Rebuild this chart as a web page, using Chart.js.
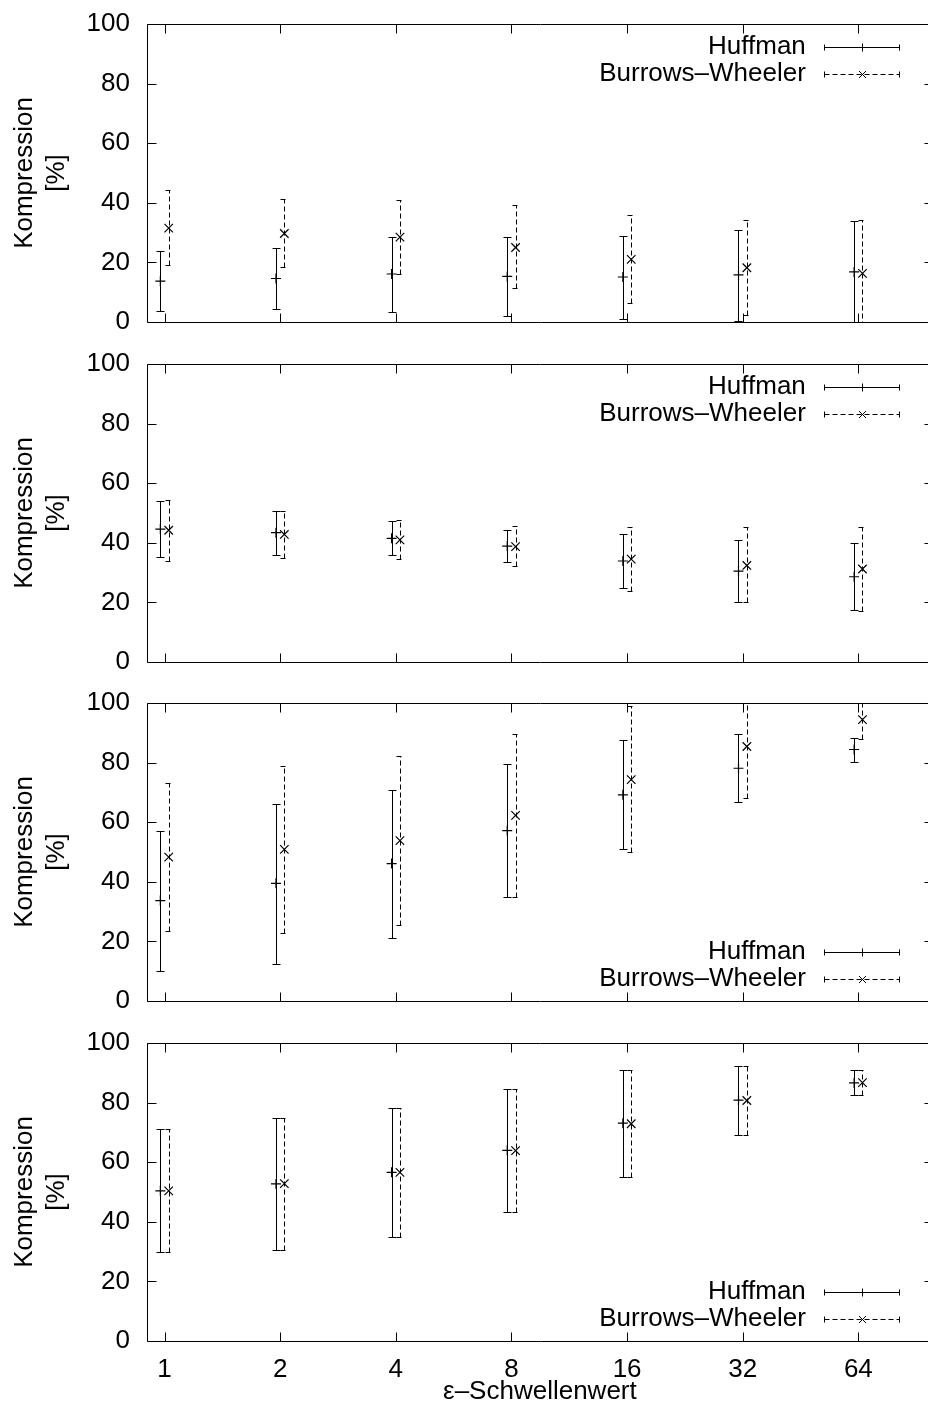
<!DOCTYPE html>
<html>
<head>
<meta charset="utf-8">
<title>Kompression nach ε-Schwellenwert</title>
<script src="https://cdn.jsdelivr.net/npm/chart.js@4.4.1/dist/chart.umd.min.js"></script>
<style>
  html, body { margin: 0; padding: 0; background: #fff; width: 928px; height: 1421px; overflow: hidden; }
  #wrap { position: relative; width: 928px; height: 1421px; overflow: hidden; }
  canvas { position: absolute; left: 0; }
</style>
</head>
<body>
<div id="wrap">
  <canvas id="p1" width="940" height="340" style="top:0px"></canvas>
  <canvas id="p2" width="940" height="339" style="top:340px"></canvas>
  <canvas id="p3" width="940" height="340" style="top:679px"></canvas>
  <canvas id="p4" width="940" height="402" style="top:1019px"></canvas>
</div>
<script>
// ---- data ----------------------------------------------------------------
const thresholds = [1, 2, 4, 8, 16, 32, 64];
const seriesNames = ['Huffman', 'Burrows\u2013Wheeler'];
const yTicks = [0, 20, 40, 60, 80, 100];
const yTitle = ['Kompression', '[%]'];
const xTitle = '\u03b5\u2013Schwellenwert';

// panel 1
const huff1Mean = [13.7, 14.6, 16.1, 15.3, 15.1, 15.8, 16.8];
const huff1Low  = [3.7, 4.5, 3.5, 2.1, 1.0, 0.4, -0.6];
const huff1High = [23.9, 24.7, 28.5, 28.5, 28.8, 30.9, 34.0];
const bw1Mean   = [31.5, 29.7, 28.5, 25.0, 21.0, 18.2, 16.3];
const bw1Low    = [19.1, 18.3, 16.1, 11.3, 6.4, 2.3, -1.5];
const bw1High   = [44.2, 41.2, 40.9, 39.2, 35.8, 34.2, 34.1];

// panel 2
const huff2Mean = [44.6, 43.4, 41.5, 38.9, 33.9, 30.5, 28.6];
const huff2Low  = [35.2, 36.0, 35.8, 33.6, 24.9, 20.2, 17.5];
const huff2High = [54.1, 50.8, 47.3, 44.4, 42.8, 40.8, 39.9];
const bw2Mean   = [44.2, 42.8, 41.0, 38.7, 34.5, 32.4, 31.2];
const bw2Low    = [34.0, 35.0, 34.7, 32.2, 23.7, 20.1, 17.1];
const bw2High   = [54.5, 50.6, 47.5, 45.6, 45.4, 45.4, 45.4];

// panel 3
const huff3Mean = [33.7, 39.5, 46.1, 57.2, 69.2, 78.1, 84.4];
const huff3Low  = [9.9, 12.5, 21.1, 35.0, 50.9, 66.7, 80.1];
const huff3High = [57.0, 66.2, 70.9, 79.5, 87.6, 89.6, 88.4];
const bw3Mean   = [48.3, 50.9, 53.8, 62.3, 74.3, 85.4, 94.4];
const bw3Low    = [23.4, 22.8, 25.4, 34.8, 50.0, 68.2, 88.0];
const bw3High   = [73.3, 79.0, 82.3, 89.6, 99.1, 103.0, 102.0];

// panel 4
const huff4Mean = [50.4, 52.7, 56.6, 64.0, 73.1, 80.8, 86.6];
const huff4Low  = [29.9, 30.7, 34.9, 43.3, 55.2, 69.1, 82.4];
const huff4High = [71.2, 74.7, 78.3, 84.7, 90.9, 92.4, 90.9];
const bw4Mean   = [50.4, 52.8, 56.6, 63.9, 72.9, 80.7, 86.7];
const bw4Low    = [29.9, 30.7, 34.9, 43.3, 55.2, 69.1, 82.4];
const bw4High   = [71.2, 74.7, 78.3, 84.7, 90.9, 92.4, 90.9];

// ---- drawing -------------------------------------------------------------
const FONT = "'Liberation Sans', Arial, Helvetica, sans-serif";
const INK = '#000';
const DASH = [5, 3];
const TICK = 9;

const panels = [
  { id: 'p1', legend: 'top',    xLabels: false,
    huff: [huff1Mean, huff1Low, huff1High], bw: [bw1Mean, bw1Low, bw1High] },
  { id: 'p2', legend: 'top',    xLabels: false,
    huff: [huff2Mean, huff2Low, huff2High], bw: [bw2Mean, bw2Low, bw2High] },
  { id: 'p3', legend: 'bottom', xLabels: false,
    huff: [huff3Mean, huff3Low, huff3High], bw: [bw3Mean, bw3Low, bw3High] },
  { id: 'p4', legend: 'bottom', xLabels: true,
    huff: [huff4Mean, huff4Low, huff4High], bw: [bw4Mean, bw4Low, bw4High] }
];

function markPlus(ctx, x, y, r) {
  ctx.moveTo(x - r, y); ctx.lineTo(x + r, y);
  ctx.moveTo(x, y - r); ctx.lineTo(x, y + r);
}
function markCross(ctx, x, y, r) {
  ctx.moveTo(x - r, y - r); ctx.lineTo(x + r, y + r);
  ctx.moveTo(x - r, y + r); ctx.lineTo(x + r, y - r);
}

// vertical error bars with caps, clipped to the plot box
const errorBars = {
  id: 'errorBars',
  beforeDatasetsDraw(chart) {
    const { ctx, chartArea: a, scales: { x, y } } = chart;
    ctx.save();
    ctx.beginPath();
    ctx.rect(a.left, a.top, a.right - a.left, a.bottom - a.top);
    ctx.clip();
    ctx.strokeStyle = INK;
    ctx.lineWidth = 1;
    chart.data.datasets.forEach(ds => {
      ds.data.forEach((p, i) => {
        const px = Math.round(x.getPixelForValue(p.x)) + 0.5;
        const yl = Math.round(y.getPixelForValue(ds.errLow[i])) + 0.5;
        const yh = Math.round(y.getPixelForValue(ds.errHigh[i])) + 0.5;
        ctx.setLineDash(ds.errDash);
        ctx.beginPath();
        ctx.moveTo(px, yl); ctx.lineTo(px, yh);
        ctx.stroke();
        ctx.beginPath();
        ctx.moveTo(px - 4, yl); ctx.lineTo(px + 4, yl);
        ctx.moveTo(px - 4, yh); ctx.lineTo(px + 4, yh);
        ctx.stroke();
      });
    });
    ctx.restore();
  }
};

// plot frame with inward ticks on all four sides
const frame = {
  id: 'frame',
  afterDraw(chart) {
    const { ctx, chartArea: a, scales: { x, y } } = chart;
    const L = Math.round(a.left) + 0.5, R = Math.round(a.right) + 0.5;
    const T = Math.round(a.top) + 0.5, B = Math.round(a.bottom) + 0.5;
    ctx.save();
    ctx.strokeStyle = INK;
    ctx.lineWidth = 1;
    ctx.setLineDash([]);
    ctx.beginPath();
    ctx.rect(L, T, R - L, B - T);
    x.ticks.forEach(t => {
      const px = Math.round(x.getPixelForValue(t.value)) + 0.5;
      ctx.moveTo(px, B); ctx.lineTo(px, B - TICK);
      ctx.moveTo(px, T); ctx.lineTo(px, T + TICK);
    });
    y.ticks.forEach(t => {
      const py = Math.round(y.getPixelForValue(t.value)) + 0.5;
      ctx.moveTo(L, py); ctx.lineTo(L + TICK, py);
      ctx.moveTo(R, py); ctx.lineTo(R - TICK, py);
    });
    ctx.stroke();
    ctx.restore();
  }
};

// key: right-aligned names with error-bar line samples
const keyBox = {
  id: 'keyBox',
  afterDraw(chart, args, opts) {
    const { ctx, chartArea: a } = chart;
    const rows = opts.position === 'top'
      ? [a.top + 22.5, a.top + 49.5]
      : [a.bottom - 49.5, a.bottom - 22.5];
    const textRight = a.right - 127;
    const x0 = Math.round(a.right - 109) + 0.5;
    const x1 = Math.round(a.right - 34) + 0.5;
    const xm = Math.round((x0 + x1) / 2) + 0.5;
    ctx.save();
    ctx.fillStyle = INK;
    ctx.strokeStyle = INK;
    ctx.lineWidth = 1;
    ctx.font = '26px ' + FONT;
    ctx.textAlign = 'right';
    ctx.textBaseline = 'middle';
    chart.data.datasets.forEach((ds, k) => {
      const ry = rows[k];
      const ly = Math.round(ry) + 0.5;
      ctx.fillText(ds.label, textRight, ry);
      ctx.setLineDash(ds.errDash);
      ctx.beginPath();
      ctx.moveTo(x0, ly); ctx.lineTo(x1, ly);
      ctx.stroke();
      ctx.setLineDash([]);
      ctx.beginPath();
      ctx.moveTo(x0, ly - 3); ctx.lineTo(x0, ly + 3);
      ctx.moveTo(x1, ly - 3); ctx.lineTo(x1, ly + 3);
      if (k === 0) markPlus(ctx, xm, ly, 4); else markCross(ctx, xm, ly, 3.5);
      ctx.stroke();
    });
    ctx.restore();
  }
};

// keep the plot box exactly where the axes say, without label overhang padding
function noOverhang(sc) {
  sc.paddingTop = 0; sc.paddingBottom = 0;
  sc.paddingLeft = 0; sc.paddingRight = 0;
}

function makeChart(panel) {
  const canvas = document.getElementById(panel.id);
  const H = canvas.height;
  const plotBottom = 322;
  const series = [
    { label: seriesNames[0], vals: panel.huff, shift: 0.975, style: 'cross', r: 5, dash: [] },
    { label: seriesNames[1], vals: panel.bw, shift: 1.025, style: 'crossRot', r: 6, dash: DASH }
  ];
  const datasets = series.map(s => ({
    label: s.label,
    data: thresholds.map((t, i) => ({ x: t * s.shift, y: s.vals[0][i] })),
    errLow: s.vals[1],
    errHigh: s.vals[2],
    errDash: s.dash,
    showLine: false,
    pointStyle: s.style,
    pointRadius: s.r,
    pointBorderColor: INK,
    pointBackgroundColor: INK,
    pointBorderWidth: 1.2
  }));

  return new Chart(canvas, {
    type: 'scatter',
    data: { datasets },
    plugins: [errorBars, frame, keyBox],
    options: {
      responsive: false,
      animation: false,
      devicePixelRatio: 1,
      layout: { padding: { top: 24, right: 4, bottom: 0, left: 0 } },
      plugins: {
        legend: { display: false },
        tooltip: { enabled: false },
        keyBox: { position: panel.legend }
      },
      scales: {
        x: {
          type: 'logarithmic',
          position: 'bottom',
          min: 0.9,
          max: 100,
          afterBuildTicks: sc => { sc.ticks = thresholds.map(v => ({ value: v })); },
          afterFit: sc => { sc.height = H - plotBottom; noOverhang(sc); },
          grid: { display: false, drawTicks: false },
          border: { display: false },
          ticks: {
            display: panel.xLabels,
            autoSkip: false,
            maxRotation: 0,
            padding: 13,
            color: INK,
            font: { family: FONT, size: 26 },
            callback: v => String(v)
          },
          title: {
            display: panel.xLabels,
            text: xTitle,
            color: INK,
            font: { family: FONT, size: 26, lineHeight: 1.2 },
            padding: { top: 0, bottom: 14 }
          }
        },
        y: {
          type: 'linear',
          position: 'left',
          min: yTicks[0],
          max: yTicks[yTicks.length - 1],
          afterBuildTicks: sc => { sc.ticks = yTicks.map(v => ({ value: v })); },
          afterFit: sc => { sc.width = 147; noOverhang(sc); },
          grid: { display: false, drawTicks: false },
          border: { display: false },
          ticks: {
            padding: 17,
            color: INK,
            font: { family: FONT, size: 26 }
          },
          title: {
            display: true,
            text: yTitle,
            color: INK,
            font: { family: FONT, size: 26, lineHeight: 1.23 },
            padding: { top: 9, bottom: 0 }
          }
        }
      }
    }
  });
}

panels.forEach(makeChart);
</script>
</body>
</html>
